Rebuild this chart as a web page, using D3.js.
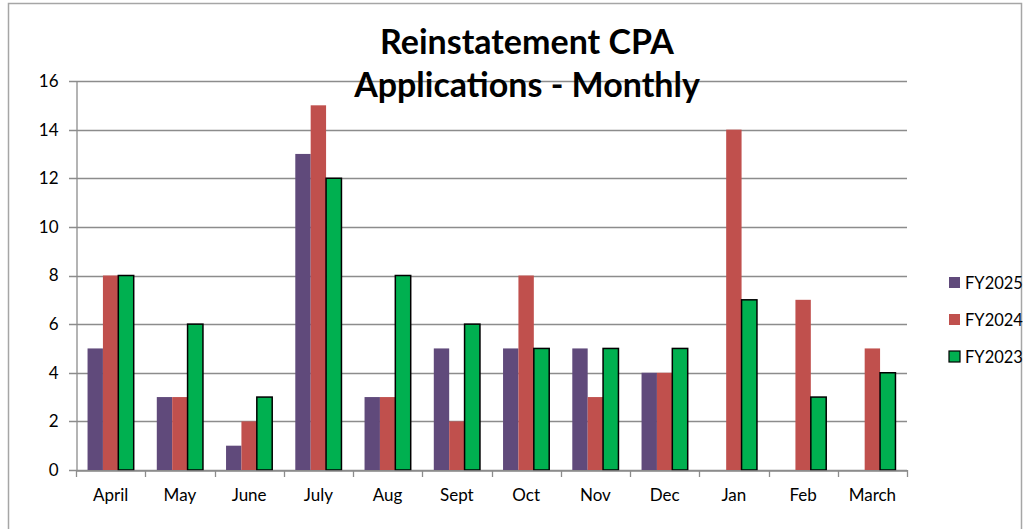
<!DOCTYPE html>
<html><head><meta charset="utf-8">
<script src="https://cdn.jsdelivr.net/npm/d3@7"></script>
<style>body{margin:0;background:#fff}svg{display:block}text{font-family:Lato,"Open Sans",sans-serif}</style>
</head><body><svg id="c" width="1030" height="529"></svg>
<script>
const months = ["April","May","June","July","Aug","Sept","Oct","Nov","Dec","Jan","Feb","March"];
const seriesNames = ["FY2025","FY2024","FY2023"];
const fy2025 = [5,3,1,13,3,5,5,5,4,null,null,null];
const fy2024 = [8,3,2,15,3,2,8,3,4,14,7,5];
const fy2023 = [8,6,3,12,8,6,5,5,5,7,3,4];
const yTicks = [0,2,4,6,8,10,12,14,16];
const colors = ["#604A7B","#C0504D","#00B050"];
const strokes = ["none","none","#000"];
const titleLines = ["Reinstatement CPA","Applications - Monthly"];

const svg = d3.select("#c");
svg.append("rect").attr("x",8.5).attr("y",3.5).attr("width",1013).attr("height",540).attr("fill","#fff").attr("stroke","#a6a6a6").attr("stroke-width",1.5);

const L=76,R=907,T=81,B=470;
const x = d3.scaleBand().domain(months).range([L,R]).paddingInner(0).paddingOuter(0);
const y = d3.scaleLinear().domain([0,16]).range([B,T]);
const inner = d3.scaleBand().domain(seriesNames).range([0,x.bandwidth()]).paddingInner(0).paddingOuter(0.75);

// gridlines
svg.append("g").selectAll("line").data(yTicks).join("line")
  .attr("x1",L-7).attr("x2",R).attr("y1",d=>Math.round(y(d))+0.5).attr("y2",d=>Math.round(y(d))+0.5)
  .attr("stroke","#8c8c8c").attr("stroke-width",1.3);

// y axis
const ya = svg.append("g").attr("transform",`translate(${L+0.5},0)`).call(d3.axisLeft(y).tickValues(yTicks).tickSize(0).tickPadding(18));
ya.select(".domain").attr("stroke","#8c8c8c").attr("stroke-width",1.3);
ya.selectAll("text").attr("font-size",17).attr("fill","#000");

// bars
const data = [fy2025,fy2024,fy2023];
data.forEach((vals,si)=>{
  svg.append("g").selectAll("rect").data(months.map((m,i)=>({m,v:vals[i]})).filter(d=>d.v!=null)).join("rect")
    .attr("x",d=>x(d.m)+inner(seriesNames[si]))
    .attr("y",d=>y(d.v))
    .attr("width",inner.bandwidth())
    .attr("height",d=>y(0)-y(d.v))
    .attr("fill",colors[si])
    .attr("stroke",strokes[si]).attr("stroke-width",1.5);
});

// x axis
const xa = svg.append("g").attr("transform",`translate(0,${B+0.5})`).call(d3.axisBottom(x).tickSize(0).tickPadding(18));
xa.select(".domain").attr("stroke","#8c8c8c").attr("stroke-width",1.3);
xa.selectAll("text").attr("font-size",17).attr("fill","#000");
const edges = months.map(m=>x(m)).concat([R]);
svg.append("g").selectAll("line").data(edges).join("line")
  .attr("x1",d=>Math.round(d)+0.5).attr("x2",d=>Math.round(d)+0.5).attr("y1",B).attr("y2",B+7)
  .attr("stroke","#8c8c8c").attr("stroke-width",1.3);

// title
svg.append("g").selectAll("text").data(titleLines).join("text")
  .attr("x",527).attr("y",(d,i)=>54+i*43).attr("text-anchor","middle")
  .attr("font-size",34).attr("font-weight","bold").attr("fill","#000").text(d=>d);

// legend
const lg = svg.append("g").selectAll("g").data(seriesNames).join("g")
  .attr("transform",(d,i)=>`translate(949,${277+i*37})`);
lg.append("rect").attr("width",11).attr("height",11).attr("fill",(d,i)=>colors[i]).attr("stroke",(d,i)=>strokes[i]).attr("stroke-width",1.2);
lg.append("text").attr("x",16).attr("y",11.5).attr("font-size",16.5).attr("fill","#000").text(d=>d);
</script></body></html>
